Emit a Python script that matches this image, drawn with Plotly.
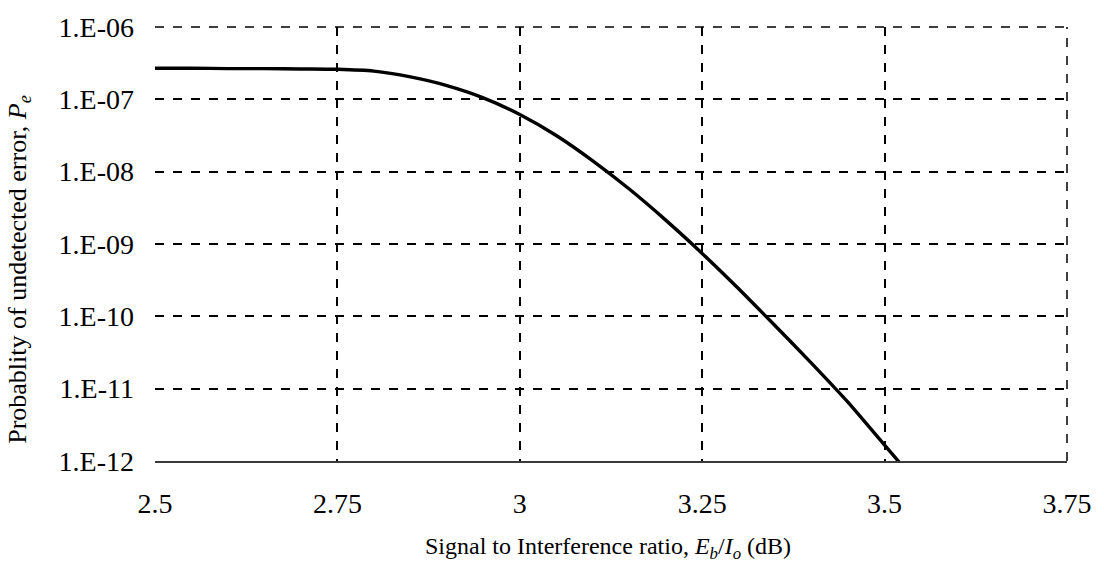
import plotly.graph_objects as go

# Signal to interference ratio (dB) and probability of undetected error
snr_db = [2.50, 2.55, 2.60, 2.65, 2.70, 2.75, 2.80, 2.85, 2.90, 2.95, 3.00,
          3.05, 3.10, 3.15, 3.20, 3.25, 3.30, 3.35, 3.40, 3.45, 3.50, 3.55]
p_error = [2.69e-7, 2.69e-7, 2.66e-7, 2.66e-7, 2.63e-7, 2.60e-7, 2.45e-7,
           2.04e-7, 1.55e-7, 1.05e-7, 6.17e-8, 3.16e-8, 1.41e-8, 5.75e-9,
           2.14e-9, 7.41e-10, 2.40e-10, 7.41e-11, 2.24e-11, 6.46e-12,
           1.66e-12, 4.27e-13]

x_ticks = [2.5, 2.75, 3, 3.25, 3.5, 3.75]
x_tick_text = ["2.5", "2.75", "3", "3.25", "3.5", "3.75"]
x_grid = [2.75, 3, 3.25, 3.5]
y_ticks = [1e-12, 1e-11, 1e-10, 1e-9, 1e-8, 1e-7, 1e-6]
y_tick_text = ["1.E-12", "1.E-11", "1.E-10", "1.E-09", "1.E-08", "1.E-07", "1.E-06"]

FONT = "Liberation Serif, Times New Roman, serif"
GRID = dict(color="black", width=1.5, dash="dash")

fig = go.Figure()

# invisible trace that anchors the grid-only x axis
fig.add_trace(go.Scatter(x=[2.5], y=[1e-9], xaxis="x2", mode="markers",
                         marker=dict(opacity=0), showlegend=False, hoverinfo="skip"))

fig.add_trace(go.Scatter(
    x=snr_db, y=p_error, mode="lines",
    line=dict(color="black", width=3.4, shape="spline", smoothing=0.6),
    showlegend=False, hoverinfo="skip",
))

fig.update_layout(
    width=1104, height=568,
    margin=dict(l=155, r=36, t=19, b=107),
    paper_bgcolor="white", plot_bgcolor="white",
    font=dict(family=FONT, color="black"),
    xaxis=dict(
        range=[2.5, 3.75], tickmode="array", tickvals=x_ticks, ticktext=x_tick_text,
        tickfont=dict(size=28, family=FONT), ticks="", showgrid=False,
        showline=True, linecolor="#3a3a3a", linewidth=1.5, zeroline=False,
        ticklabelstandoff=17,
    ),
    xaxis2=dict(
        range=[2.5, 3.75], overlaying="x", tickmode="array", tickvals=x_grid,
        showticklabels=False, ticks="", showgrid=True, gridcolor="black",
        gridwidth=1.5, griddash="dash", zeroline=False, showline=False,
    ),
    yaxis=dict(
        type="log", range=[-12, -6], tickmode="array", tickvals=y_ticks,
        ticktext=y_tick_text, tickfont=dict(size=28, family=FONT), ticks="",
        showgrid=True, gridcolor="black", gridwidth=1.5, griddash="dash",
        zeroline=False, showline=False, ticklabelstandoff=20,
    ),
    shapes=[
        # dashed frame along the top and right edges of the plotting area
        dict(type="line", xref="paper", yref="paper", x0=0, x1=1, y0=1, y1=1,
             line=GRID, layer="below"),
        dict(type="line", xref="paper", yref="paper", x0=1, x1=1, y0=0, y1=1,
             line=GRID, layer="below"),
    ],
    annotations=[
        dict(text="Signal to Interference ratio, <i>E<sub>b</sub></i>/<i>I<sub>o</sub></i> (dB)",
             xref="paper", yref="paper", x=0.497, y=-0.200,
             xanchor="center", yanchor="middle", showarrow=False,
             font=dict(size=24, family=FONT)),
        dict(text="Probablity of undetected error, <i>P<sub>e</sub></i>",
             xref="paper", yref="paper", x=-0.150, y=0.441,
             xanchor="center", yanchor="middle", showarrow=False, textangle=-90,
             font=dict(size=26, family=FONT)),
    ],
)

fig.write_html("out.html")
